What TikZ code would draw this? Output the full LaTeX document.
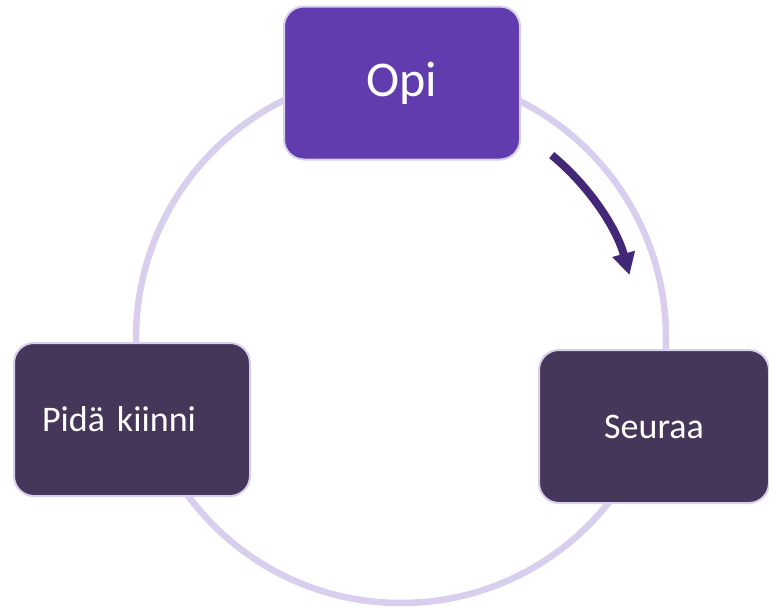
\documentclass[tikz,border=0pt]{standalone}
\usepackage{fontspec}
\setmainfont{Carlito}
\usetikzlibrary{arrows.meta,calc}
\definecolor{ringcol}{RGB}{216,206,238}
\definecolor{activecol}{RGB}{96,60,175}
\definecolor{stepcol}{RGB}{70,55,90}
\definecolor{arrowcol}{RGB}{68,40,120}
\tikzset{
  ring/.style={draw=ringcol, line width=6.5pt},
  stagebox/.style={rectangle, rounded corners=20pt, draw=ringcol, line width=2pt,
    minimum width=236pt, minimum height=153pt, text=white, inner sep=0pt},
  activebox/.style={stagebox, fill=activecol, font=\fontsize{50}{60}\selectfont},
  plainbox/.style={stagebox, fill=stepcol, font=\fontsize{36}{43}\selectfont},
  flow/.style={draw=arrowcol, line width=8pt, -{Triangle[length=22pt,width=22pt]}}
}
\begin{document}
\begin{tikzpicture}[x=1pt,y=-1pt]
  \useasboundingbox (0,0) rectangle (769,608);
  % cycle ring
  \coordinate (c) at (401,338);
  \draw[ring] (c) circle[radius=265];
  % stages
  \node[activebox] (learn) at (402,83) {Opi};
  \node[plainbox, text width=180pt, inner xsep=28pt, align=left] (hold) at (132,419.5) {Pidä kiinni};
  \node[plainbox, minimum width=230pt] (follow) at (654,426.5) {Seuraa};
  % direction of the cycle
  \coordinate (a0) at ($(c)+(-50.5:237)$);
  \draw[flow] (a0) arc[start angle=-50.5, end angle=-15.4, radius=237];
\end{tikzpicture}
\end{document}
